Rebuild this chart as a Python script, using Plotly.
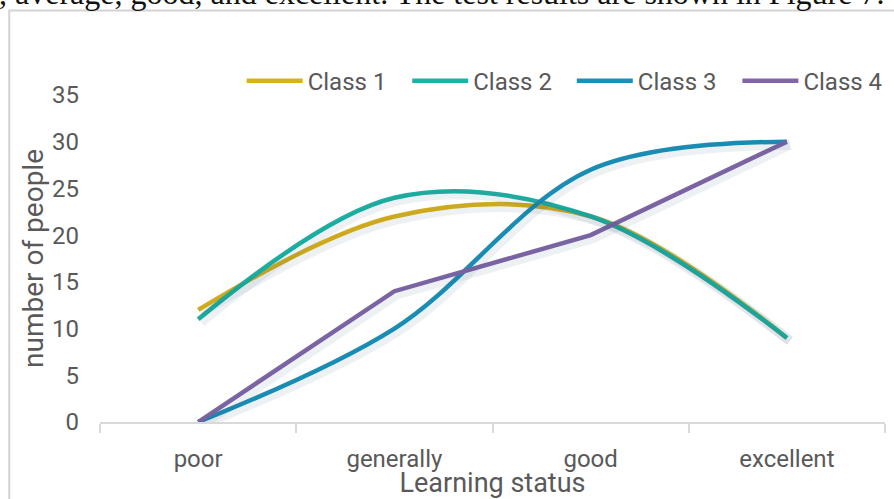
import plotly.graph_objects as go

categories = ["poor", "generally", "good", "excellent"]
class1 = [12, 22, 22, 9]
class2 = [11, 24, 22, 9]
class3 = [0, 10, 27, 30]
class4 = [0, 14, 20, 30]
series_names = ["Class 1", "Class 2", "Class 3", "Class 4"]
series_vals = [class1, class2, class3, class4]
colors = ["#D9B11B", "#1DB3A4", "#1A91B9", "#8066A8"]
shapes_line = ["spline", "spline", "spline", "linear"]
y_ticks = [0, 5, 10, 15, 20, 25, 30, 35]

W, H = 894, 499
L, R, T, B = 100, 7, 95, 75
pw = W - L - R
ph = H - T - B

FONT = "Roboto"
GREY = "#595959"

fig = go.Figure()

# soft shadows (drawn on slightly shifted axes)
dx = 3 * 4 / pw
dy = 3 * 35 / ph
for name, vals, c, s in zip(series_names, series_vals, colors, shapes_line):
    fig.add_trace(go.Scatter(
        x=categories, y=vals, mode="lines", xaxis="x2", yaxis="y2",
        line=dict(color="rgba(40,80,100,0.08)", width=10, shape=s, smoothing=1),
        showlegend=False, hoverinfo="skip"))

legend_ids = ["legend", "legend2", "legend3", "legend4"]
for name, vals, c, s, lg in zip(series_names, series_vals, colors, shapes_line, legend_ids):
    fig.add_trace(go.Scatter(
        x=categories, y=vals, mode="lines", name=name, legend=lg,
        line=dict(color=c, width=4.5, shape=s, smoothing=1)))

legend_px = [242, 408, 573, 739]
legends = {}
for lg, px in zip(legend_ids, legend_px):
    legends[lg] = dict(orientation="h", x=(px - L) / pw, xanchor="left",
                       y=(H - B - 81) / ph, yanchor="middle",
                       font=dict(size=24, color=GREY, family=FONT),
                       itemwidth=56, bgcolor="rgba(0,0,0,0)")

fig.update_layout(
    width=W, height=H,
    margin=dict(l=L, r=R, t=T, b=B),
    paper_bgcolor="white", plot_bgcolor="white",
    font=dict(family=FONT, color=GREY, size=22),
    showlegend=True,
    **legends,
    xaxis=dict(type="category", categoryorder="array", categoryarray=categories,
               range=[-0.5, 3.5], showgrid=False, zeroline=False,
               showline=True, linecolor="#D9D9D9", linewidth=2,
               ticks="outside", tickson="boundaries", ticklen=9,
               tickcolor="#D9D9D9", tickwidth=2, ticklabelstandoff=14,
               tickfont=dict(size=24, color=GREY, family=FONT),
               title=dict(text="Learning status", standoff=0,
                          font=dict(size=27, color=GREY, family=FONT))),
    yaxis=dict(range=[0, 35], tickvals=y_ticks, showgrid=False, zeroline=False,
               showline=False, ticks="", ticklabelstandoff=20,
               tickfont=dict(size=24, color=GREY, family=FONT),
               title=dict(text="number of people", standoff=0,
                          font=dict(size=28, color=GREY, family=FONT))),
    xaxis2=dict(type="category", categoryorder="array", categoryarray=categories,
                range=[-0.5 - dx, 3.5 - dx], overlaying="x", visible=False),
    yaxis2=dict(range=[0 + dy, 35 + dy], overlaying="y", visible=False),
)

# document frame border
fig.add_shape(type="rect", xref="paper", yref="paper",
              x0=(9 - L) / pw, x1=(W + 20 - L) / pw,
              y0=(H - B - (H + 20)) / ph, y1=(H - B - 10) / ph,
              line=dict(color="#D4D4D4", width=2), fillcolor="rgba(0,0,0,0)",
              layer="below")

# cut-off body text from the document above the figure
fig.add_annotation(text=", average, good, and excellent. The test results are shown in Figure 7.",
                   xref="paper", yref="paper", x=(-3 - L) / pw, xanchor="left",
                   y=(H - B + 8) / ph, yanchor="middle", showarrow=False,
                   font=dict(family="Liberation Serif", size=32, color="#111111"))

fig.write_html("out.html")
